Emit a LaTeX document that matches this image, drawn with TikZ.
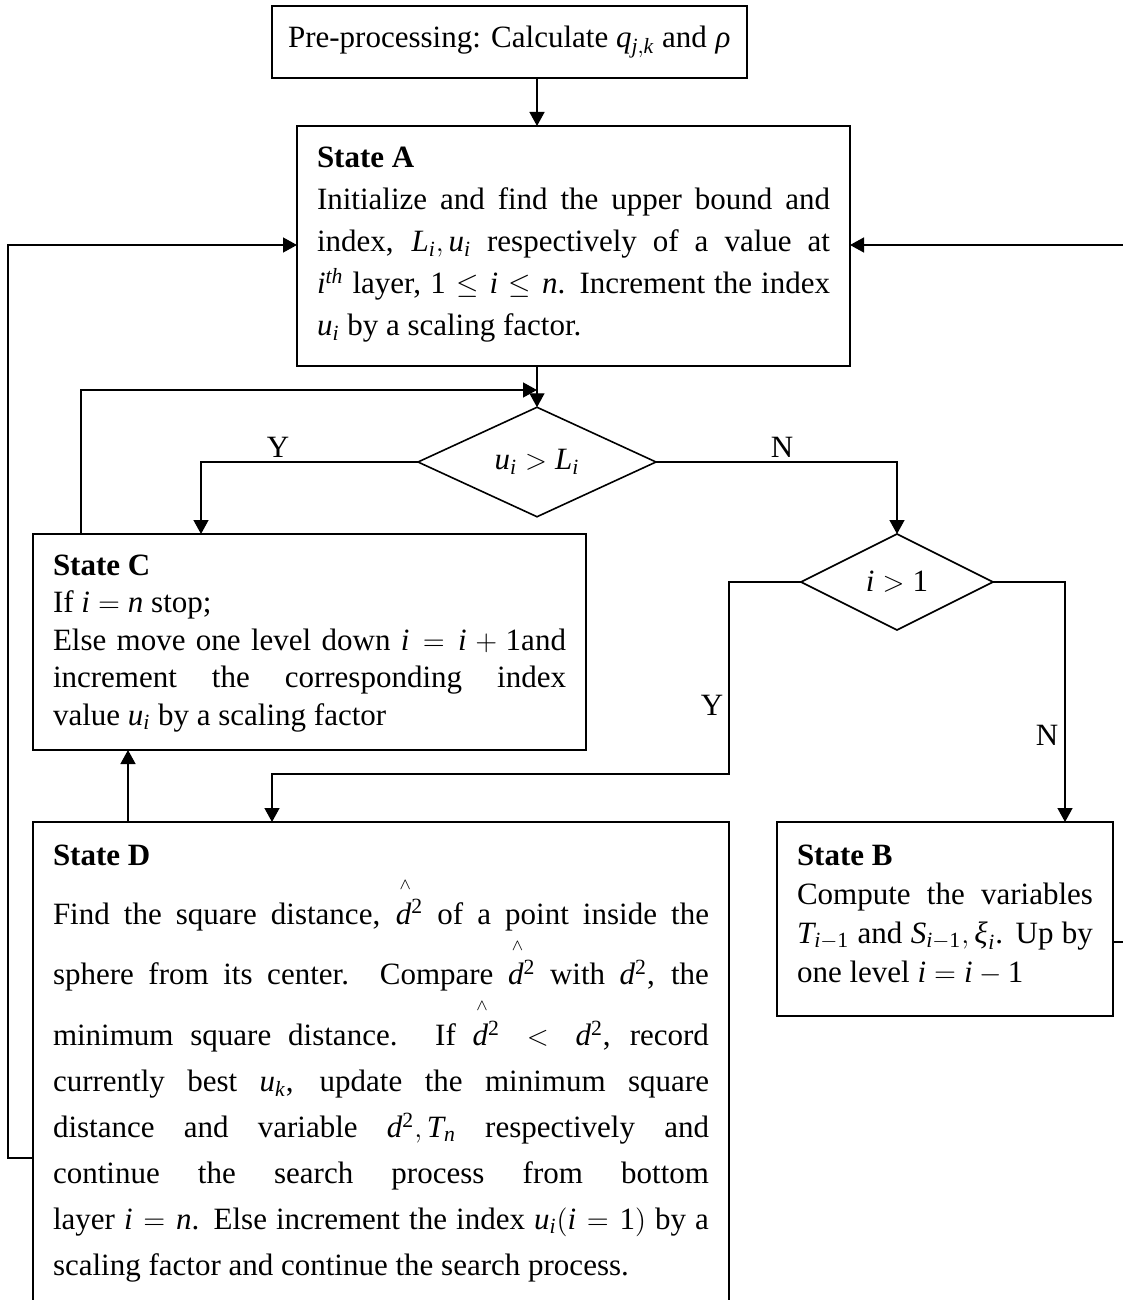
\documentclass[tikz,border=0pt]{standalone}
\usepackage{mathspec}
\setmainfont{Liberation Serif}
\setmathsfont(Digits,Latin,Greek){Liberation Serif}
\usetikzlibrary{shapes.geometric,arrows.meta}

% d squared with a small wedge set high above the d
\newcommand\dhat{\makebox[0pt][l]{\hspace{0.12em}\raisebox{1.12em}{$\scriptscriptstyle\wedge$}}d^{2}}
% invisible strut that opens up a line holding a wedge
\newcommand\tallline[1]{\rule{0pt}{#1}}

\begin{document}
\begin{tikzpicture}[x=0.5pt,y=-0.5pt,
  every node/.style={inner sep=0pt, outer sep=0pt, font=\fontsize{15.5}{18.6}\selectfont},
  box/.style={draw, line width=0.8pt, anchor=north west},
  txt/.style={anchor=base west, align=justify},
  dec/.style={draw, diamond, line width=0.8pt},
  arr/.style={line width=0.7pt, -{Triangle[length=7pt,width=7.5pt]}}]
\useasboundingbox (0,0) rectangle (1123,1300);

% boxes
\node[box, minimum width=475*0.5pt, minimum height=72*0.5pt] (pre) at (272,6) {};
\node (pret) at (pre.center) {Pre-processing: Calculate $q_{j,k}$ and $\rho$};

\node[box, minimum width=553*0.5pt, minimum height=240*0.5pt] (A) at (297,126) {};
\node[txt, text width=513*0.5pt, font=\fontsize{15.5}{21}\selectfont] (At) at (317,168)
  {\textbf{State A}\\
   Initialize and find the upper bound and\linebreak
   index, $L_i, u_i$ respectively of a value at\linebreak
   $i^{th}$ layer, $1\le i\le n$. Increment the index\linebreak
   $u_i$ by a scaling factor.};

\node[box, minimum width=553*0.5pt, minimum height=216*0.5pt] (C) at (33,534) {};
\node[txt, text width=513*0.5pt, font=\fontsize{15.5}{18.75}\selectfont] (Ct) at (53,575)
  {\textbf{State C}\\
   If $i=n$ stop;\\
   Else move one level down $i=i+1$and\linebreak
   increment the corresponding index\linebreak
   value $u_i$ by a scaling factor};

\node[box, minimum width=696*0.5pt, minimum height=520*0.5pt] (D) at (33,822) {};
\node[txt, text width=656*0.5pt, font=\fontsize{15.5}{23}\selectfont] (Dt) at (53,865)
  {\textbf{State D}\\
   \tallline{28.5pt}Find the square distance, $\dhat$ of a point inside the\linebreak
   \tallline{26pt}sphere from its center. Compare $\dhat$ with $d^{2}$, the\linebreak
   \tallline{26pt}minimum square distance. If $\dhat < d^{2}$, record\linebreak
   currently best $u_k$, update the minimum square\linebreak
   distance and variable $d^{2}, T_n$ respectively and\linebreak
   continue the search process from bottom\linebreak
   layer $i = n$. Else increment the index $u_i(i=1)$ by a\linebreak
   scaling factor and continue the search process.};

\node[box, minimum width=336*0.5pt, minimum height=194*0.5pt] (B) at (777,822) {};
\node[txt, text width=296*0.5pt, font=\fontsize{15.5}{19.5}\selectfont] (Bt) at (797,865)
  {\textbf{State B}\\
   Compute the variables\linebreak
   $T_{i-1}$ and $S_{i-1}, \xi_i$. Up by\linebreak
   one level $i=i-1$};

% decisions
\node[dec, minimum width=238*0.5pt, minimum height=96*0.5pt] (d1) at (537,462) {$u_i > L_i$};
\node[dec, minimum width=192*0.5pt, minimum height=96*0.5pt] (d2) at (897,582) {$i > 1$};

% branch labels
\node (y1) at (278,447) {Y};
\node (n1) at (782,447) {N};
\node (y2) at (712,705) {Y};
\node (n2) at (1047,735) {N};

% bend points of the connectors
\coordinate (fb) at (81,390);
\coordinate (yc) at (201,462);
\coordinate (yb) at (729,774);
\coordinate (yd) at (272,774);
\coordinate (nb) at (1065,582);
\coordinate (cd) at (128,800);
\coordinate (lb) at (8,1158);
\coordinate (la) at (8,245);
\coordinate (rb) at (1140,942);
\coordinate (ra) at (1140,245);

% connectors
\draw[arr] (d1 |- pre.south) -- (d1 |- A.north);
\draw[arr] (d1 |- A.south) -- (d1.north);
\draw[arr] (C.north -| fb) |- (d1.north |- fb);
\draw[arr] (d1.west) -| (C.north -| yc);
\draw[arr] (d1.east) -| (d2.north);
\draw[arr] (d2.west) -| (yb) -- (yd) -- (D.north -| yd);
\draw[arr] (d2.east) -| (B.north -| nb);
\draw[arr] (D.north -| cd) -- (C.south -| cd);
\draw[arr] (D.west |- lb) -- (lb) -- (la) -- (A.west |- la);
\draw[arr] (B.east |- rb) -- (rb) -- (ra) -- (A.east |- ra);
\end{tikzpicture}
\end{document}
